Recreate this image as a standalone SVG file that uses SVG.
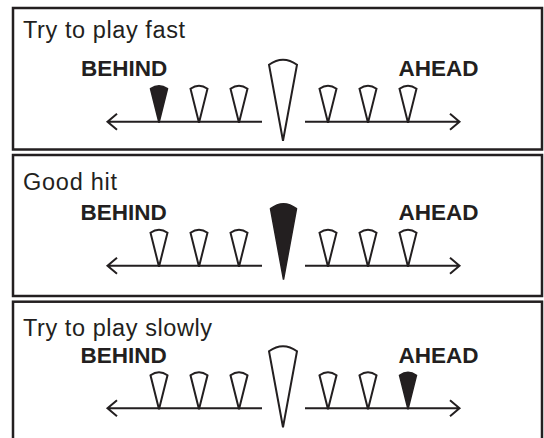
<svg xmlns="http://www.w3.org/2000/svg" xmlns:xlink="http://www.w3.org/1999/xlink" width="544" height="438" viewBox="0 0 544 438">
  <style>
    .panel { fill: #ffffff; stroke: #231f20; stroke-width: 2.5; }
    .title { font-family: "Liberation Sans", Arial, sans-serif; font-size: 23.5px; fill: #231f20; }
    .label { font-family: "Liberation Sans", Arial, sans-serif; font-size: 22.5px; font-weight: bold; fill: #231f20; }
    .axis { fill: none; stroke: #231f20; stroke-width: 2; stroke-linecap: butt; stroke-linejoin: miter; }
    .open { fill: #ffffff; stroke: #231f20; stroke-width: 2; stroke-linejoin: miter; stroke-miterlimit: 3; }
    .solid { fill: #231f20; stroke: #231f20; stroke-width: 1.5; stroke-linejoin: miter; stroke-miterlimit: 3; }
  </style>
  <defs>
    <path id="small" d="M-8.5,-33 Q0,-39 8.5,-33 L0,1 Z"/>
    <path id="big" d="M-14,-57 Q0,-67 14,-57 L0,19 Z"/>
    <path id="bigSolid" d="M-13,-57 Q0,-67 13,-57 L0,14 Z"/>
  </defs>
  <rect width="544" height="438" fill="#ffffff"/>

  <!-- Panel 1 -->
  <g id="panel-fast">
    <rect class="panel" x="13" y="8" width="529" height="141.5"/>
    <text class="title" x="23" y="38.3" textLength="162" lengthAdjust="spacing">Try to play fast</text>
    <text class="label" x="81" y="75.7">BEHIND</text>
    <text class="label" x="398.5" y="75.7">AHEAD</text>
  </g>
  <!-- Panel 2 -->
  <g id="panel-good">
    <rect class="panel" x="13" y="155" width="529" height="141"/>
    <text class="title" x="23" y="190" textLength="94" lengthAdjust="spacing">Good hit</text>
    <text class="label" x="80.5" y="220">BEHIND</text>
    <text class="label" x="398.5" y="220">AHEAD</text>
  </g>
  <!-- Panel 3 -->
  <g id="panel-slow">
    <rect class="panel" x="13" y="301.7" width="529" height="150"/>
    <text class="title" x="23" y="335.7" textLength="189" lengthAdjust="spacing">Try to play slowly</text>
    <text class="label" x="80.5" y="362.7">BEHIND</text>
    <text class="label" x="398.5" y="362.7">AHEAD</text>
  </g>

  <!-- Connectors: axis arrows -->
  <g id="connectors">
    <path class="axis" d="M262,121.7 L107.5,121.7 M117,113.7 L107.5,121.7 L117,129.7"/>
    <path class="axis" d="M305,121.7 L459.5,121.7 M450,113.7 L459.5,121.7 L450,129.7"/>
    <path class="axis" d="M262,265.7 L107.5,265.7 M117,257.7 L107.5,265.7 L117,273.7"/>
    <path class="axis" d="M305,265.7 L459.5,265.7 M450,257.7 L459.5,265.7 L450,273.7"/>
    <path class="axis" d="M262,408.3 L107.5,408.3 M117,400.3 L107.5,408.3 L117,416.3"/>
    <path class="axis" d="M305,408.3 L459.5,408.3 M450,400.3 L459.5,408.3 L450,416.3"/>
  </g>

  <!-- Markers panel 1 -->
  <g id="markers-fast">
    <use href="#small" xlink:href="#small" class="solid" x="159" y="121.7"/>
    <use href="#small" xlink:href="#small" class="open" x="199" y="121.7"/>
    <use href="#small" xlink:href="#small" class="open" x="239" y="121.7"/>
    <use href="#big" xlink:href="#big" class="open" x="283" y="121.7"/>
    <use href="#small" xlink:href="#small" class="open" x="328" y="121.7"/>
    <use href="#small" xlink:href="#small" class="open" x="368" y="121.7"/>
    <use href="#small" xlink:href="#small" class="open" x="408" y="121.7"/>
  </g>
  <!-- Markers panel 2 -->
  <g id="markers-good">
    <use href="#small" xlink:href="#small" class="open" x="159" y="265.7"/>
    <use href="#small" xlink:href="#small" class="open" x="199" y="265.7"/>
    <use href="#small" xlink:href="#small" class="open" x="239" y="265.7"/>
    <use href="#bigSolid" xlink:href="#bigSolid" class="solid" x="283.5" y="265.7"/>
    <use href="#small" xlink:href="#small" class="open" x="328" y="265.7"/>
    <use href="#small" xlink:href="#small" class="open" x="368" y="265.7"/>
    <use href="#small" xlink:href="#small" class="open" x="408" y="265.7"/>
  </g>
  <!-- Markers panel 3 -->
  <g id="markers-slow">
    <use href="#small" xlink:href="#small" class="open" x="159" y="408.3"/>
    <use href="#small" xlink:href="#small" class="open" x="199" y="408.3"/>
    <use href="#small" xlink:href="#small" class="open" x="239" y="408.3"/>
    <use href="#big" xlink:href="#big" class="open" x="283" y="408.3"/>
    <use href="#small" xlink:href="#small" class="open" x="328" y="408.3"/>
    <use href="#small" xlink:href="#small" class="open" x="368" y="408.3"/>
    <use href="#small" xlink:href="#small" class="solid" x="408" y="408.3"/>
  </g>
</svg>
